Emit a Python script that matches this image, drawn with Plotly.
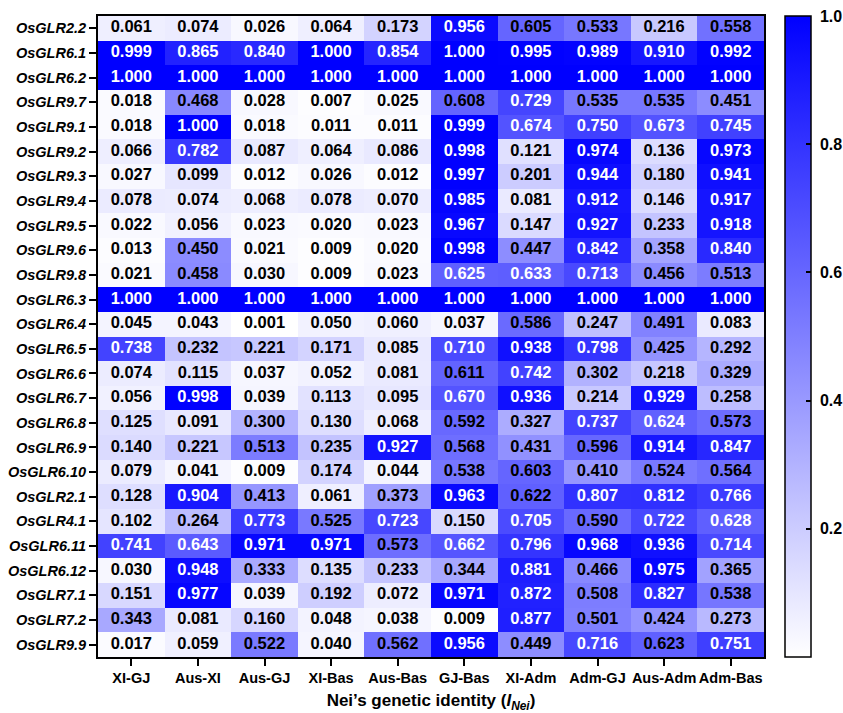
import plotly.graph_objects as go

columns = ["XI-GJ", "Aus-XI", "Aus-GJ", "XI-Bas", "Aus-Bas", "GJ-Bas", "XI-Adm", "Adm-GJ", "Aus-Adm", "Adm-Bas"]
genes = ["OsGLR2.2", "OsGLR6.1", "OsGLR6.2", "OsGLR9.7", "OsGLR9.1", "OsGLR9.2", "OsGLR9.3", "OsGLR9.4",
         "OsGLR9.5", "OsGLR9.6", "OsGLR9.8", "OsGLR6.3", "OsGLR6.4", "OsGLR6.5", "OsGLR6.6", "OsGLR6.7",
         "OsGLR6.8", "OsGLR6.9", "OsGLR6.10", "OsGLR2.1", "OsGLR4.1", "OsGLR6.11", "OsGLR6.12", "OsGLR7.1",
         "OsGLR7.2", "OsGLR9.9"]

row_2_2 = [0.061, 0.074, 0.026, 0.064, 0.173, 0.956, 0.605, 0.533, 0.216, 0.558]
row_6_1 = [0.999, 0.865, 0.840, 1.000, 0.854, 1.000, 0.995, 0.989, 0.910, 0.992]
row_6_2 = [1.000, 1.000, 1.000, 1.000, 1.000, 1.000, 1.000, 1.000, 1.000, 1.000]
row_9_7 = [0.018, 0.468, 0.028, 0.007, 0.025, 0.608, 0.729, 0.535, 0.535, 0.451]
row_9_1 = [0.018, 1.000, 0.018, 0.011, 0.011, 0.999, 0.674, 0.750, 0.673, 0.745]
row_9_2 = [0.066, 0.782, 0.087, 0.064, 0.086, 0.998, 0.121, 0.974, 0.136, 0.973]
row_9_3 = [0.027, 0.099, 0.012, 0.026, 0.012, 0.997, 0.201, 0.944, 0.180, 0.941]
row_9_4 = [0.078, 0.074, 0.068, 0.078, 0.070, 0.985, 0.081, 0.912, 0.146, 0.917]
row_9_5 = [0.022, 0.056, 0.023, 0.020, 0.023, 0.967, 0.147, 0.927, 0.233, 0.918]
row_9_6 = [0.013, 0.450, 0.021, 0.009, 0.020, 0.998, 0.447, 0.842, 0.358, 0.840]
row_9_8 = [0.021, 0.458, 0.030, 0.009, 0.023, 0.625, 0.633, 0.713, 0.456, 0.513]
row_6_3 = [1.000, 1.000, 1.000, 1.000, 1.000, 1.000, 1.000, 1.000, 1.000, 1.000]
row_6_4 = [0.045, 0.043, 0.001, 0.050, 0.060, 0.037, 0.586, 0.247, 0.491, 0.083]
row_6_5 = [0.738, 0.232, 0.221, 0.171, 0.085, 0.710, 0.938, 0.798, 0.425, 0.292]
row_6_6 = [0.074, 0.115, 0.037, 0.052, 0.081, 0.611, 0.742, 0.302, 0.218, 0.329]
row_6_7 = [0.056, 0.998, 0.039, 0.113, 0.095, 0.670, 0.936, 0.214, 0.929, 0.258]
row_6_8 = [0.125, 0.091, 0.300, 0.130, 0.068, 0.592, 0.327, 0.737, 0.624, 0.573]
row_6_9 = [0.140, 0.221, 0.513, 0.235, 0.927, 0.568, 0.431, 0.596, 0.914, 0.847]
row_6_10 = [0.079, 0.041, 0.009, 0.174, 0.044, 0.538, 0.603, 0.410, 0.524, 0.564]
row_2_1 = [0.128, 0.904, 0.413, 0.061, 0.373, 0.963, 0.622, 0.807, 0.812, 0.766]
row_4_1 = [0.102, 0.264, 0.773, 0.525, 0.723, 0.150, 0.705, 0.590, 0.722, 0.628]
row_6_11 = [0.741, 0.643, 0.971, 0.971, 0.573, 0.662, 0.796, 0.968, 0.936, 0.714]
row_6_12 = [0.030, 0.948, 0.333, 0.135, 0.233, 0.344, 0.881, 0.466, 0.975, 0.365]
row_7_1 = [0.151, 0.977, 0.039, 0.192, 0.072, 0.971, 0.872, 0.508, 0.827, 0.538]
row_7_2 = [0.343, 0.081, 0.160, 0.048, 0.038, 0.009, 0.877, 0.501, 0.424, 0.273]
row_9_9 = [0.017, 0.059, 0.522, 0.040, 0.562, 0.956, 0.449, 0.716, 0.623, 0.751]

colorbar_ticks = [0.2, 0.4, 0.6, 0.8, 1.0]
colorbar_ticktext = ["0.2", "0.4", "0.6", "0.8", "1.0"]

z = [row_2_2, row_6_1, row_6_2, row_9_7, row_9_1, row_9_2, row_9_3, row_9_4, row_9_5, row_9_6,
     row_9_8, row_6_3, row_6_4, row_6_5, row_6_6, row_6_7, row_6_8, row_6_9, row_6_10, row_2_1,
     row_4_1, row_6_11, row_6_12, row_7_1, row_7_2, row_9_9]

FONT = "Liberation Sans, Arial, sans-serif"

fig = go.Figure()
fig.add_trace(go.Heatmap(
    z=z, x=columns, y=genes,
    zmin=0, zmax=1,
    colorscale=[[0, "#ffffff"], [1, "#0000ff"]],
    hoverinfo="skip",
    colorbar=dict(
        x=1.0315, xanchor="left", xpad=0,
        y=1, yanchor="top", ypad=0, len=1, lenmode="fraction",
        thickness=26, thicknessmode="pixels",
        outlinewidth=1.5, outlinecolor="black",
        tickvals=colorbar_ticks,
        ticktext=["\u00a0" + t for t in colorbar_ticktext],
        ticklabeloverflow="allow",
        ticks="inside", ticklen=5, tickwidth=1.5, tickcolor="black",
        tickfont=dict(family=FONT, size=16, color="black", weight="bold"),
    ),
))

xs, ys, texts, colors = [], [], [], []
for gi, g in enumerate(genes):
    for ci, c in enumerate(columns):
        v = z[gi][ci]
        xs.append(c)
        ys.append(g)
        texts.append(f"{v:.3f}")
        colors.append("white" if v > 0.6235 else "black")

fig.add_trace(go.Scatter(
    x=xs, y=ys, text=texts, mode="text",
    textfont=dict(family=FONT, size=16.5, color=colors, weight="bold"),
    hoverinfo="skip", showlegend=False,
))

fig.update_layout(
    width=843, height=713,
    margin=dict(l=98, r=79, t=16, b=56, autoexpand=False),
    plot_bgcolor="white", paper_bgcolor="white",
    showlegend=False,
    xaxis=dict(
        categoryorder="array", categoryarray=columns,
        range=[-0.5, len(columns) - 0.5],
        showline=True, mirror=True, linewidth=2, linecolor="black",
        ticks="outside", ticklen=7, tickwidth=2, tickcolor="black",
        tickangle=0,
        tickfont=dict(family=FONT, size=14.5, color="black", weight="bold"),
        showgrid=False, zeroline=False,
        title=dict(text="Nei’s genetic identity (<i>I</i><sub><i>Nei</i></sub>)",
                   font=dict(family=FONT, size=17, color="black", weight="bold"),
                   standoff=13),
    ),
    yaxis=dict(
        categoryorder="array", categoryarray=genes,
        range=[len(genes) - 0.5, -0.5],
        showline=True, mirror=True, linewidth=2, linecolor="black",
        ticks="outside", ticklen=7, tickwidth=2, tickcolor="black",
        tickfont=dict(family=FONT, size=14.5, color="black", weight="bold", style="italic"),
        showgrid=False, zeroline=False,
    ),
)

fig.write_html("out.html", config={"displayModeBar": False},
               post_script="document.body.style.margin='0px';")
